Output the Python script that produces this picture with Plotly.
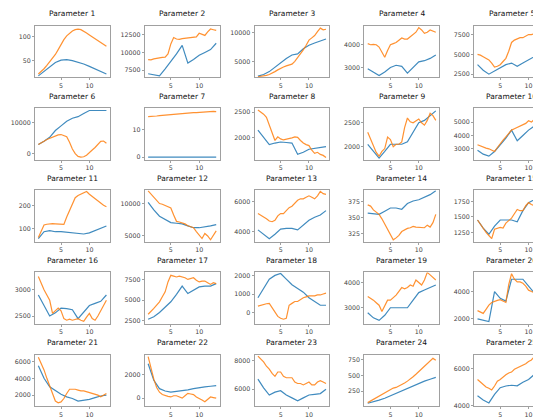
import plotly.graph_objects as go

titles = [f"Parameter {i}" for i in range(1, 26)]
x_blue = list(range(1, 14))
x_orange = [1 + 0.5 * k for k in range(25)]
x_ticks = [5, 10]

blue = [
    [18,28,38,46,51,52,50,47,43,38,33,28,22],
    [7000,6900,6700,7700,8700,9800,11000,8500,9000,9600,10000,10400,11300],
    [2400,2700,3200,4000,4800,5500,6100,6300,7200,7800,8200,8600,8900],
    [2950,2800,2650,2800,3000,3100,3050,2750,3000,3250,3300,3400,3550],
    [3700,3000,2500,2900,3300,3700,3900,3500,3900,4300,4700,5100,5500],
    [3000,4000,5300,7500,9000,10500,11500,12000,13000,14000,14000,14000,14000],
    [0,0,0,0,0,0,0,0,0,0,0,0,0],
    [2150,2000,1870,1900,1920,1910,1900,1680,1720,1780,1800,1810,1830],
    [2050,1900,1760,1900,2050,2050,2050,2100,2300,2500,2550,2650,2750],
    [2900,2600,2450,2800,3300,3800,4400,3600,4000,4400,4700,5000,5400],
    [55,85,90,85,85,82,80,78,75,80,90,100,110],
    [10200,9000,8000,7500,7000,6900,6800,6500,6200,6200,6300,6500,6700],
    [4100,3800,3500,3800,4150,4200,4200,4100,4400,4750,4950,5100,5400],
    [357,356,355,360,365,365,363,372,376,378,382,386,392],
    [1450,1320,1220,1350,1450,1450,1450,1420,1600,1730,1780,1830,1870],
    [2900,2700,2500,2560,2650,2640,2620,2450,2580,2700,2740,2780,2900],
    [2700,3000,3500,4100,4800,5700,6700,5800,6200,6600,6700,6700,7000],
    [800,1300,1800,2000,2100,1800,1500,1300,1100,800,600,400,400],
    [2800,2600,2500,2700,3000,3000,3000,3000,3300,3600,3700,3800,3900],
    [2000,1900,1800,4000,3500,3300,4900,4900,4900,4400,3900,3600,3500],
    [5500,4000,3000,2500,2100,1800,1600,1300,1400,1500,1700,1900,2000],
    [2900,1500,800,600,500,550,600,700,800,900,950,1000,1050],
    [6700,6100,5600,5800,5900,5600,5400,5200,5400,5600,5650,5700,6000],
    [60,80,110,140,180,220,260,300,340,380,410,440,470],
    [4530,4300,4140,4600,4960,5050,5090,5060,5250,5400,5670,5900,6100],
]

orange = [
    [22,27,33,40,47,55,63,73,84,94,102,108,112,115,116,115,112,108,104,100,96,91,88,84,80],
    [9000,8950,9100,9200,9250,9300,9350,9800,11200,12100,11900,11850,11950,12000,11950,12100,12050,12200,12700,12600,12400,12900,13300,13200,13100],
    [2300,2350,2450,2550,2700,2900,3200,3500,3800,4000,4200,4300,4500,5000,5600,6300,7000,7800,8700,9100,9500,10200,10800,10500,10600],
    [4050,4000,4020,4000,3900,3700,3450,3750,4000,4050,4100,4200,4300,4250,4250,4350,4450,4550,4750,4650,4500,4550,4650,4600,4550],
    [5000,4900,4700,4500,4300,3900,3400,3500,3700,4100,4500,5400,6500,6800,7000,7100,7100,7300,7500,7500,7600,7800,8000,8200,8300],
    [3000,3400,4000,4600,5000,5400,5800,6100,6200,5900,5500,3700,1500,0,-900,-1100,-1000,-500,500,1200,2000,3000,4000,4100,3400],
    [14.8,14.8,14.9,15.0,15.1,15.2,15.3,15.5,15.6,15.7,15.8,15.8,15.9,15.9,16.0,16.1,16.2,16.2,16.3,16.4,16.5,16.6,16.7,16.7,16.6],
    [2540,2500,2460,2400,2250,2100,1950,2020,1980,1960,1970,1990,2000,2020,2010,1950,1900,1870,1850,1760,1700,1720,1680,1660,1620],
    [2300,2150,2000,1880,1800,1900,1960,2200,2150,2000,2050,2050,2100,2400,2600,2520,2500,2550,2580,2500,2450,2550,2700,2650,2550],
    [3300,3200,3100,3050,3000,2900,2800,3100,3400,3650,3900,4150,4400,4500,4600,4650,4800,4900,5100,5000,5200,5600,5800,5850,5900],
    [60,90,115,118,120,121,120,119,118,117,150,180,210,235,245,250,258,262,250,240,228,220,210,202,195],
    [12000,11500,11000,10500,10000,9900,9700,9500,9300,8200,7200,7100,7000,6800,6500,6400,6200,5600,5000,4500,5300,4900,4300,5000,5700],
    [5200,5100,5000,4850,4700,4650,4750,5050,5200,5200,5400,5600,5700,5900,6100,6200,6200,6300,6400,6300,6200,6400,6700,6550,6500],
    [370,368,362,358,355,348,340,332,325,315,318,322,328,331,333,334,336,335,335,334,334,338,335,342,355],
    [1450,1380,1320,1250,1200,1150,1300,1320,1330,1320,1400,1440,1480,1550,1620,1600,1600,1680,1730,1700,1680,1720,1750,1800,1820],
    [3250,3120,3000,2900,2800,2550,2600,2650,2600,2450,2420,2440,2420,2430,2450,2420,2400,2480,2550,2450,2420,2500,2600,2700,2800],
    [3300,3600,4000,4400,4800,5400,6000,7200,8000,7900,7800,7900,7800,7700,7500,7600,7700,7400,7200,7300,7300,7100,6900,7100,7000],
    [350,400,450,480,500,250,0,-200,-300,-350,-300,400,500,600,600,700,800,850,900,900,900,950,950,1000,1050],
    [3450,3380,3300,3200,3100,2850,3100,3300,3300,3400,3500,3650,3800,3750,3800,3900,3850,4100,4000,3900,4100,4400,4300,4200,4100],
    [2600,2500,2400,2700,3000,3200,3300,3350,3400,3300,3200,4500,5300,4900,4700,4700,4600,4400,4100,4000,3900,3800,3700,3650,3600],
    [6500,5800,5000,4000,3200,2200,1300,1100,1200,1600,2200,2700,2700,2700,2600,2500,2500,2400,2300,2200,2100,2000,1800,2000,2200],
    [3500,2500,1600,900,500,300,200,150,100,200,200,100,0,200,400,350,300,100,0,-150,-300,-100,100,50,0],
    [8300,8100,7900,7600,7400,7100,6900,7200,7200,6900,6800,6800,6800,6500,6400,6400,6300,6400,6500,6300,6300,6500,6600,6500,6400],
    [70,95,120,150,180,205,230,255,280,300,310,330,350,380,410,440,480,520,560,600,650,690,730,770,740],
    [5400,5250,5100,5000,4930,4840,5050,5310,5400,5550,5650,5750,5800,5950,6020,6100,6190,6250,6370,6450,6630,6700,6750,6800,6850],
]

y_ticks = [
    [50,100],[7500,10000,12500],[5000,10000],[3000,4000],[2500,5000,7500],
    [0,10000],[0,10],[2000,2500],[2000,2500],[3000,4000,5000],
    [100,200],[5000,10000],[4000,6000],[325,350,375],[1250,1500,1750],
    [2500,3000],[2500,5000,7500],[0,1000,2000],[3000,4000],[2000,4000],
    [2000,4000,6000],[0,2000],[6000,8000],[250,500,750],[4000,6000],
]

y_ranges = [
    [15,123],[6500,13750],[2200,11200],[2570,4830],[2100,8600],
    [-1900,14800],[-0.85,17.9],[1580,2580],[1730,2810],[2200,6050],
    [41,268],[4000,12100],[3300,6780],[312,393],[1100,1930],
    [2350,3330],[2130,8350],[-600,2160],[2360,4400],[1630,5400],
    [700,6820],[-670,3670],[4830,8410],[15,830],[3970,6740],
]

# The page body has an 8px default margin, so the figure is 8px smaller
# and all positions are shifted by 8px.
OFF = 8
W, H = 541 - OFF, 418 - OFF
col_left = [35 - OFF, 145 - OFF, 255 - OFF, 365 - OFF, 475 - OFF]
plot_w = 75
row_top = [25 - OFF, 108 - OFF, 191 - OFF, 274 - OFF, 357 - OFF]
plot_h = 52
x_full = [0.4, 13.6]

BLUE = "#1f77b4"
ORANGE = "#ff7f0e"
FONT = "DejaVu Sans"

fig = go.Figure()
annotations = []
layout_axes = {}
for i in range(25):
    r, c = divmod(i, 5)
    n = i + 1
    xa = "x" if n == 1 else f"x{n}"
    ya = "y" if n == 1 else f"y{n}"
    left = col_left[c]
    right = left + plot_w
    xr = list(x_full)
    if right > W:
        xr[1] = x_full[0] + (x_full[1] - x_full[0]) * (W - left) / plot_w
        right = W
    top = row_top[r]
    bot = top + plot_h
    dom_x = [left / W, right / W]
    dom_y = [max(0, 1 - bot / H), 1 - top / H]
    fig.add_trace(go.Scatter(x=x_blue, y=blue[i], mode="lines", opacity=0.85,
                             line=dict(color=BLUE, width=1.2), xaxis=xa, yaxis=ya,
                             showlegend=False))
    fig.add_trace(go.Scatter(x=x_orange, y=orange[i], mode="lines", opacity=0.85,
                             line=dict(color=ORANGE, width=1.2), xaxis=xa, yaxis=ya,
                             showlegend=False))
    axstyle = dict(showgrid=False, zeroline=False, showline=True, linecolor="#a0a0a0",
                   linewidth=1, mirror=True, ticks="outside", ticklen=2,
                   tickcolor="#a0a0a0", tickfont=dict(family=FONT, size=6.3, color="#444"))
    layout_axes["xaxis" if n == 1 else f"xaxis{n}"] = dict(
        domain=dom_x, anchor=ya, range=xr, tickvals=x_ticks,
        ticktext=[str(t) for t in x_ticks], **axstyle)
    layout_axes["yaxis" if n == 1 else f"yaxis{n}"] = dict(
        domain=dom_y, anchor=xa, range=y_ranges[i], tickvals=y_ticks[i],
        ticktext=[str(t) for t in y_ticks[i]], **axstyle)
    annotations.append(dict(text=titles[i], x=(left + plot_w / 2) / W, y=1 - (top - 12) / H,
                            xref="paper", yref="paper", xanchor="center", yanchor="middle",
                            showarrow=False, font=dict(family=FONT, size=7.5, color="#111")))

fig.update_layout(width=W, height=H, margin=dict(l=0, r=0, t=0, b=0),
                  paper_bgcolor="white", plot_bgcolor="white",
                  annotations=annotations, **layout_axes)
fig.write_html("out.html")
